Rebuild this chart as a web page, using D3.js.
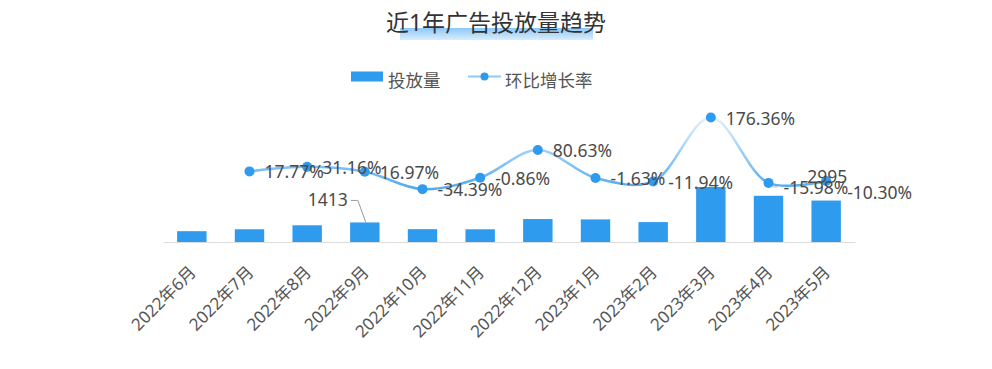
<!DOCTYPE html>
<html>
<head>
<meta charset="utf-8">
<script src="https://cdn.jsdelivr.net/npm/d3@7"></script>
<style>
  body { margin: 0; background: #fff; }
  text { font-family: "Noto Sans", "Noto Sans CJK SC", sans-serif; }
</style>
</head>
<body>
<svg id="chart"></svg>
<script>
const months = ['2022年6月', '2022年7月', '2022年8月', '2022年9月', '2022年10月', '2022年11月',
  '2022年12月', '2023年1月', '2023年2月', '2023年3月', '2023年4月', '2023年5月'];
const volume = [782, 921, 1208, 1413, 927, 919, 1660, 1633, 1438, 3974, 3339, 2995];
const growth = [null, 17.77, 31.16, 16.97, -34.39, -0.86, 80.63, -1.63, -11.94, 176.36, -15.98, -10.30];
const barLabelMonths = ['2022年9月', '2023年5月'];

const width = 992, height = 369;
const barColor = '#2e9bef';
const textColor = '#4a4a4a';

const svg = d3.select('#chart').attr('width', width).attr('height', height);
const defs = svg.append('defs');

// title highlight gradient
const tg = defs.append('linearGradient').attr('id', 'titleGrad')
  .attr('x1', 0).attr('y1', 0).attr('x2', 0).attr('y2', 1);
tg.append('stop').attr('offset', '0%').attr('stop-color', '#8cc8f7');
tg.append('stop').attr('offset', '100%').attr('stop-color', '#d9edfc');

// line gradient (vertical)
const lg = defs.append('linearGradient').attr('id', 'lineGrad')
  .attr('gradientUnits', 'userSpaceOnUse')
  .attr('x1', 0).attr('x2', 0).attr('y1', 192).attr('y2', 115);
lg.append('stop').attr('offset', '0%').attr('stop-color', '#4aa8f1');
lg.append('stop').attr('offset', '100%').attr('stop-color', '#e8f4fe');

// title
svg.append('rect').attr('x', 400).attr('y', 28).attr('width', 193).attr('height', 12)
  .attr('fill', 'url(#titleGrad)');
svg.append('text').attr('x', width / 2).attr('y', 31)
  .attr('text-anchor', 'middle').attr('font-size', 23).attr('fill', '#333')
  .text('近1年广告投放量趋势');

// legend
const legend = svg.append('g');
legend.append('rect').attr('x', 351).attr('y', 71.5).attr('width', 32).attr('height', 10).attr('fill', barColor);
legend.append('text').attr('x', 388).attr('y', 87).attr('font-size', 17.5).attr('fill', '#555').text('投放量');
legend.append('line').attr('x1', 468).attr('x2', 501).attr('y1', 76.5).attr('y2', 76.5)
  .attr('stroke', '#8fc9f6').attr('stroke-width', 2);
legend.append('circle').attr('cx', 484.5).attr('cy', 76.5).attr('r', 4).attr('fill', barColor);
legend.append('text').attr('x', 505).attr('y', 87).attr('font-size', 17.5).attr('fill', '#555').text('环比增长率');

// scales
const x = d3.scaleBand().domain(months).range([163, 855]);
const cx = (m) => x(m) + x.bandwidth() / 2;
const barW = x.bandwidth() * 0.51;
const yBar = d3.scaleLinear().domain([0, 10000]).range([242, 103.6]);
const yLine = d3.scaleLinear().domain([-190, 210]).range([242, 106.1]);

// axis
const xaxis = d3.axisBottom(x).tickSize(0).tickPadding(0);
const gx = svg.append('g').attr('transform', 'translate(0,242)').call(xaxis);
gx.select('.domain').attr('stroke', '#dcdcdc').attr('stroke-width', 1.2);
gx.selectAll('.tick text')
  .attr('font-size', 17).attr('fill', '#555')
  .attr('text-anchor', 'end').attr('dy', '0.35em')
  .attr('transform', 'translate(1,27) rotate(-45)');

// bars
const data = months.map((m, i) => ({ m, v: volume[i], g: growth[i] }));
svg.append('g').selectAll('rect').data(data).join('rect')
  .attr('x', (d) => cx(d.m) - barW / 2)
  .attr('y', (d) => yBar(d.v))
  .attr('width', barW)
  .attr('height', (d) => yBar(0) - yBar(d.v))
  .attr('fill', barColor);

// line
const lineData = data.filter((d) => d.g !== null);
const line = d3.line().x((d) => cx(d.m)).y((d) => yLine(d.g)).curve(d3.curveCatmullRom.alpha(0.5));
svg.append('path').datum(lineData).attr('d', line)
  .attr('fill', 'none').attr('stroke', 'url(#lineGrad)').attr('stroke-width', 2.5);

svg.append('g').selectAll('circle').data(lineData).join('circle')
  .attr('cx', (d) => cx(d.m)).attr('cy', (d) => yLine(d.g)).attr('r', 5).attr('fill', barColor);

// bar labels (overlapping ones hidden, like the original)
const barLabels = svg.append('g');
data.filter((d) => barLabelMonths.includes(d.m)).forEach((d) => {
  const bx = cx(d.m), by = yBar(d.v);
  if (d.m === '2022年9月') {
    barLabels.append('polyline')
      .attr('points', [[bx + 1, by], [bx - 7, by - 22], [bx - 14, by - 22]].map((p) => p.join(',')).join(' '))
      .attr('fill', 'none').attr('stroke', '#999').attr('stroke-width', 1);
    barLabels.append('text').attr('x', bx - 17).attr('y', by - 16)
      .attr('text-anchor', 'end').attr('font-size', 17.5).attr('fill', textColor).text(d.v);
  } else {
    barLabels.append('text').attr('x', bx + 1).attr('y', by - 18)
      .attr('text-anchor', 'middle').attr('font-size', 17.5).attr('fill', textColor).text(d.v);
  }
});

// growth labels, a couple nudged apart as in the original
const nudge = { '2023年4月': [0, 5], '2023年5月': [6, 12] };
const gl = svg.append('g');
lineData.forEach((d) => {
  const px = cx(d.m), py = yLine(d.g);
  const [ndx, ndy] = nudge[d.m] || [0, 1];
  if (d.m === '2023年4月') {
    gl.append('line').attr('x1', px + 3).attr('x2', px + 9).attr('y1', py + 4).attr('y2', py + 4)
      .attr('stroke', '#bbb').attr('stroke-width', 1);
  }
  gl.append('text').attr('x', px + 15 + ndx).attr('y', py + 6 + ndy)
    .attr('font-size', 17.5).attr('fill', textColor)
    .text(d.g.toFixed(2) + '%');
});
</script>
</body>
</html>
